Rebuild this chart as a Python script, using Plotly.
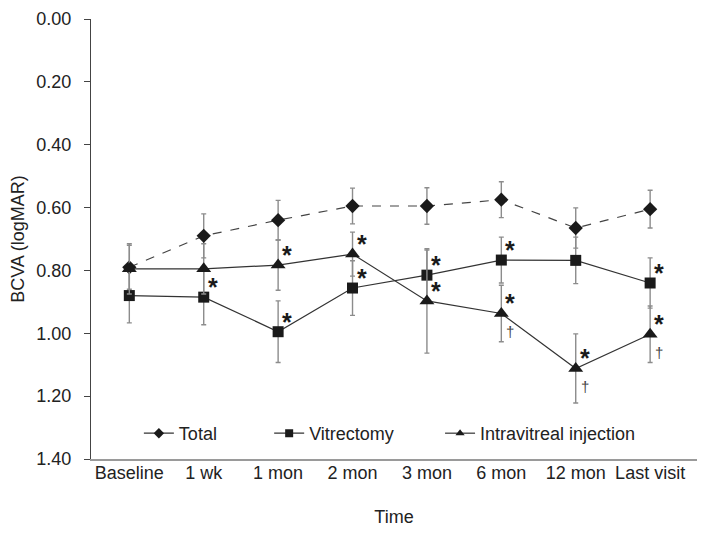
import plotly.graph_objects as go

categories = ["Baseline", "1 wk", "1 mon", "2 mon", "3 mon", "6 mon", "12 mon", "Last visit"]
total = [0.79, 0.69, 0.64, 0.595, 0.595, 0.575, 0.665, 0.605]
total_sd = [0.07, 0.07, 0.063, 0.057, 0.058, 0.057, 0.064, 0.06]
vit = [0.88, 0.885, 0.995, 0.856, 0.815, 0.767, 0.768, 0.84]
vit_sd = [0.087, 0.088, 0.098, 0.087, 0.08, 0.073, 0.074, 0.08]
ivi = [0.795, 0.795, 0.783, 0.748, 0.897, 0.937, 1.112, 1.003]
ivi_sd = [0.08, 0.08, 0.08, 0.07, 0.166, 0.09, 0.11, 0.09]
vit_star = [0, 1, 1, 1, 1, 1, 0, 1]
ivi_star = [0, 0, 1, 1, 1, 1, 1, 1]
ivi_dagger = [0, 0, 0, 0, 0, 1, 1, 1]
yticks = [0.0, 0.2, 0.4, 0.6, 0.8, 1.0, 1.2, 1.4]

FONT = "Liberation Sans, Arial, sans-serif"
INK = "#1a1a1a"
ERR = "#8c8c8c"

fig = go.Figure()

def err(sd):
    return dict(type="data", array=sd, visible=True, color=ERR, thickness=1.4, width=2.5)

fig.add_trace(go.Scatter(x=categories, y=total, mode="lines+markers", showlegend=False,
                         line=dict(color="#444", width=1.2, dash="dash"),
                         marker=dict(symbol="diamond", size=11, color=INK),
                         error_y=err(total_sd)))
fig.add_trace(go.Scatter(x=categories, y=vit, mode="lines+markers", showlegend=False,
                         line=dict(color="#333", width=1.2),
                         marker=dict(symbol="square", size=11, color=INK),
                         error_y=err(vit_sd)))
fig.add_trace(go.Scatter(x=categories, y=ivi, mode="lines+markers", showlegend=False,
                         line=dict(color="#333", width=1.2),
                         marker=dict(symbol="triangle-up", size=13, color=INK),
                         error_y=err(ivi_sd)))

# legend-only entries
for name, sym, lg in [("Total", "diamond", "legend"), ("Vitrectomy", "square", "legend2"),
                      ("Intravitreal injection", "triangle-up", "legend3")]:
    fig.add_trace(go.Scatter(x=[None], y=[None], mode="lines+markers", name=name, legend=lg,
                             line=dict(color="#333", width=1.2),
                             marker=dict(symbol=sym, size=8, color=INK)))

ann = []
for c, v, s in zip(categories, vit, vit_star):
    if s:
        ann.append(dict(x=c, y=v, text="<b>*</b>", xshift=9, yshift=10))
for c, v, s in zip(categories, ivi, ivi_star):
    if s:
        ann.append(dict(x=c, y=v, text="<b>*</b>", xshift=9, yshift=10))
for c, v, s in zip(categories, ivi, ivi_dagger):
    if s:
        ann.append(dict(x=c, y=v, text="†", xshift=9, yshift=-18, font=dict(size=15, color="#444", family=FONT)))
for a in ann:
    a.update(xref="x", yref="y", showarrow=False)
    a.setdefault("font", dict(size=25, color=INK, family=FONT))
fig.update_layout(annotations=ann)

leg = dict(orientation="h", y=0.058, xanchor="left", yanchor="middle",
           bgcolor="rgba(0,0,0,0)", font=dict(size=18))
# page body has an 8px margin, so the figure is sized/margined to compensate
fig.update_layout(
    width=697, height=528,
    margin=dict(l=83, r=8, t=11, b=76.5),
    paper_bgcolor="white", plot_bgcolor="white",
    font=dict(family=FONT, size=18, color="#222"),
    xaxis=dict(type="category", range=[-0.515, 7.63], showgrid=False, zeroline=False,
               showline=True, linecolor="#9a9a9a", linewidth=2, ticks="", automargin=False,
               ticklabelstandoff=-4,
               title=dict(text="Time", font=dict(size=18), standoff=29),
               tickfont=dict(size=18)),
    yaxis=dict(range=[1.4, 0.0], tickvals=yticks, ticktext=[f"{t:.2f}" for t in yticks],
               showgrid=False, zeroline=False, showline=True, linecolor="#444", linewidth=1,
               ticks="outside", ticklen=6, tickcolor="#444", automargin=False,
               ticklabelstandoff=9, ticklabeloverflow="allow",
               title=dict(text="BCVA (logMAR)", font=dict(size=18), standoff=8),
               tickfont=dict(size=18)),
    legend=dict(leg, x=0.079),
    legend2=dict(leg, x=0.294),
    legend3=dict(leg, x=0.576),
)

fig.write_html("out.html")
